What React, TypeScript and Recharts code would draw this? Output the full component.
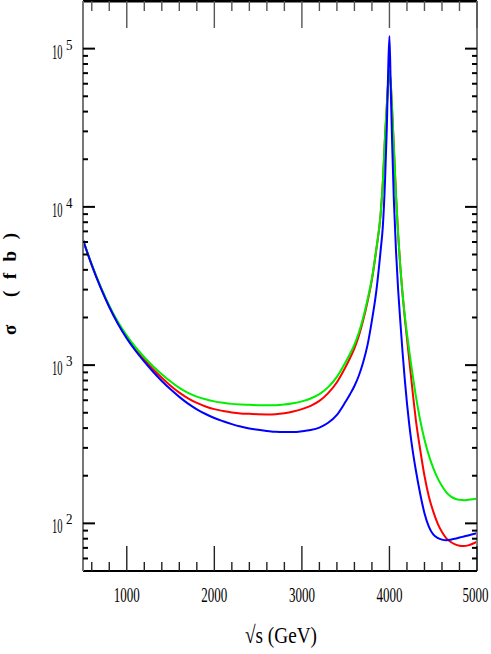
import { LineChart, Line, XAxis, YAxis, ReferenceLine } from "recharts";

// sqrt(s) in GeV
const energy = [
  500, 600, 700, 800, 900, 1000, 1100, 1200, 1300, 1400, 1500, 1600, 1700, 1800, 1900, 2000, 2100, 2200,
  2300, 2400, 2500, 2600, 2700, 2800, 2900, 3000, 3100, 3200, 3300, 3400, 3500,
  3550, 3600, 3650, 3700, 3750, 3800, 3850, 3900,
  3925, 3950, 3970, 3985, 4000,
  4015, 4030, 4050, 4075, 4100, 4125, 4150, 4175, 4200, 4225, 4250, 4275, 4300,
  4350, 4400, 4450, 4500, 4550, 4600, 4650, 4700, 4750, 4800, 4850, 4900, 4950, 5000,
];

// cross sections in fb
const sigmaRed = [
  6190, 4295, 3119, 2344, 1837, 1500, 1259, 1081, 942, 832, 741, 670, 617, 577, 548, 527, 513, 502,
  495, 492, 489, 488, 490, 497, 509, 527, 553, 594, 665, 780, 977,
  1109, 1276, 1528, 1919, 2523, 3475, 5370, 9078,
  14454, 28184, 43652, 60256, 72444,
  60256, 41687, 23988, 11749, 6607, 4121, 2786, 1995, 1479, 1096, 813, 603, 457,
  295, 200, 148, 119, 100, 88.1, 80.4, 76.2, 73.6, 72.3, 71.9, 72.6, 74.3, 76.7,
];
const sigmaGreen = [
  6190, 4315, 3148, 2377, 1871, 1538, 1297, 1122, 984, 875, 787, 718, 668, 632, 608, 590, 578, 569,
  564, 561, 558, 557, 558, 564, 574, 590, 615, 655, 726, 843, 1047,
  1180, 1349, 1603, 1995, 2600, 3548, 5433, 9120,
  14454, 28184, 43652, 60256, 72444,
  60256, 41687, 23988, 11749, 6607, 4121, 2818, 2065, 1585, 1245, 989, 794, 646,
  452, 339, 269, 224, 193, 172, 157, 148, 143, 141, 140, 141, 142, 143,
];
const sigmaBlue = [
  6190, 4290, 3100, 2330, 1820, 1476, 1233, 1052, 908, 794, 703, 630, 571, 526, 491, 463, 442, 424,
  409, 398, 390, 384, 379, 378, 378, 382, 389, 403, 432, 485, 589,
  655, 738, 857, 1042, 1343, 1919, 2938, 5346,
  7586, 14791, 31623, 70795, 120000,
  56200, 26300, 11220, 5248, 2951, 1862, 1202, 813, 575, 427, 331, 266, 219,
  155, 116, 95.5, 85.1, 80.9, 78.9, 78.3, 78.9, 80.0, 81.3, 82.6, 83.9, 85.3, 86.7,
];

const xTicks = [
  600, 800, 1000, 1200, 1400, 1600, 1800, 2000, 2200, 2400, 2600, 2800, 3000, 3200, 3400, 3600, 3800,
  4000, 4200, 4400, 4600, 4800, 5000,
];
const xMajor = [1000, 2000, 3000, 4000, 5000];
const yTicks = [
  60, 70, 80, 90, 100, 200, 300, 400, 500, 600, 700, 800, 900, 1000, 2000, 3000, 4000, 5000, 6000, 7000,
  8000, 9000, 10000, 20000, 30000, 40000, 50000, 60000, 70000, 80000, 90000, 100000,
];
const yDecades = [100, 1000, 10000, 100000];
const yExponents = ["2", "3", "4", "5"];

const data = energy.map((e, i) => ({
  e,
  red: sigmaRed[i],
  green: sigmaGreen[i],
  blue: sigmaBlue[i],
}));

const W = 491;
const H = 654;
const PLOT_TOP = 1;
const PLOT_RIGHT = 477;
const FONT = "'Liberation Serif', 'DejaVu Serif', serif";

function XTick(props: any) {
  const { x, y, payload } = props;
  const major = xMajor.includes(payload.value);
  // the last label sits on the right edge, keep it inside the page
  const labelX = payload.value === 5000 ? x - 1.5 : x;
  return (
    <g>
      <line x1={x} x2={x} y1={y} y2={y - (major ? 25 : 9)} stroke="#222" strokeWidth={1.4} />
      <line x1={x} x2={x} y1={PLOT_TOP} y2={PLOT_TOP + (major ? 27 : 10)} stroke="#555" strokeWidth={1.4} />
      {major && (
        <text
          x={labelX}
          y={y + 31}
          textAnchor="middle"
          fontFamily={FONT}
          fontSize={21}
          textLength={26}
          lengthAdjust="spacingAndGlyphs"
          fill="#000"
        >
          {payload.value}
        </text>
      )}
    </g>
  );
}

function YTick(props: any) {
  const { x, y, payload } = props;
  const idx = yDecades.indexOf(payload.value);
  const major = idx >= 0;
  const len = major ? 12 : 5;
  return (
    <g>
      <line x1={x} x2={x + len} y1={y} y2={y} stroke="#000" strokeWidth={2} />
      <line x1={PLOT_RIGHT - len} x2={PLOT_RIGHT} y1={y} y2={y} stroke="#000" strokeWidth={2} />
      {major && (
        <g fontFamily={FONT} fill="#000">
          <text x={x - 31} y={y + 10} fontSize={21} textLength={10.5} lengthAdjust="spacingAndGlyphs">
            10
          </text>
          <text x={x - 17} y={y + 1} fontSize={15} textLength={6.5} lengthAdjust="spacingAndGlyphs">
            {yExponents[idx]}
          </text>
        </g>
      )}
    </g>
  );
}

export default function App() {
  return (
    <div style={{ position: "absolute", left: 0, top: 0, width: W, height: H, background: "#fff" }}>
      <LineChart width={W} height={H} data={data} margin={{ top: PLOT_TOP, right: W - PLOT_RIGHT, bottom: 0, left: 0 }}>
        <XAxis
          dataKey="e"
          type="number"
          domain={[500, 5000]}
          allowDataOverflow
          ticks={xTicks}
          interval={0}
          height={83}
          tickSize={0}
          tickMargin={0}
          tickLine={false}
          axisLine={{ stroke: "#000", strokeWidth: 2 }}
          tick={<XTick />}
        />
        <YAxis
          type="number"
          scale="log"
          domain={[50, 200000]}
          allowDataOverflow
          ticks={yTicks}
          interval={0}
          width={83}
          tickSize={0}
          tickMargin={0}
          tickLine={false}
          axisLine={{ stroke: "#777", strokeWidth: 2 }}
          tick={<YTick />}
        />
        <Line type="monotone" dataKey="red" stroke="#ff0000" strokeWidth={2} dot={false} isAnimationActive={false} />
        <Line type="monotone" dataKey="green" stroke="#00ee00" strokeWidth={2} dot={false} isAnimationActive={false} />
        <Line type="monotone" dataKey="blue" stroke="#0000ff" strokeWidth={2} dot={false} isAnimationActive={false} />
        <ReferenceLine y={200000} stroke="#000" strokeWidth={3} />
        <ReferenceLine x={5000} stroke="#777" strokeWidth={2} />
      </LineChart>
      <svg width={W} height={H} style={{ position: "absolute", left: 0, top: 0, pointerEvents: "none" }}>
        <text
          x={281}
          y={643}
          textAnchor="middle"
          fontFamily={FONT}
          fontSize={24}
          textLength={72}
          lengthAdjust="spacingAndGlyphs"
        >
          √s (GeV)
        </text>
        <text
          x={16}
          y={284}
          transform="rotate(-90 16 284)"
          textAnchor="middle"
          fontFamily={FONT}
          fontWeight="bold"
          fontSize={19}
          textLength={102}
          lengthAdjust="spacing"
        >
          σ (fb)
        </text>
      </svg>
    </div>
  );
}
